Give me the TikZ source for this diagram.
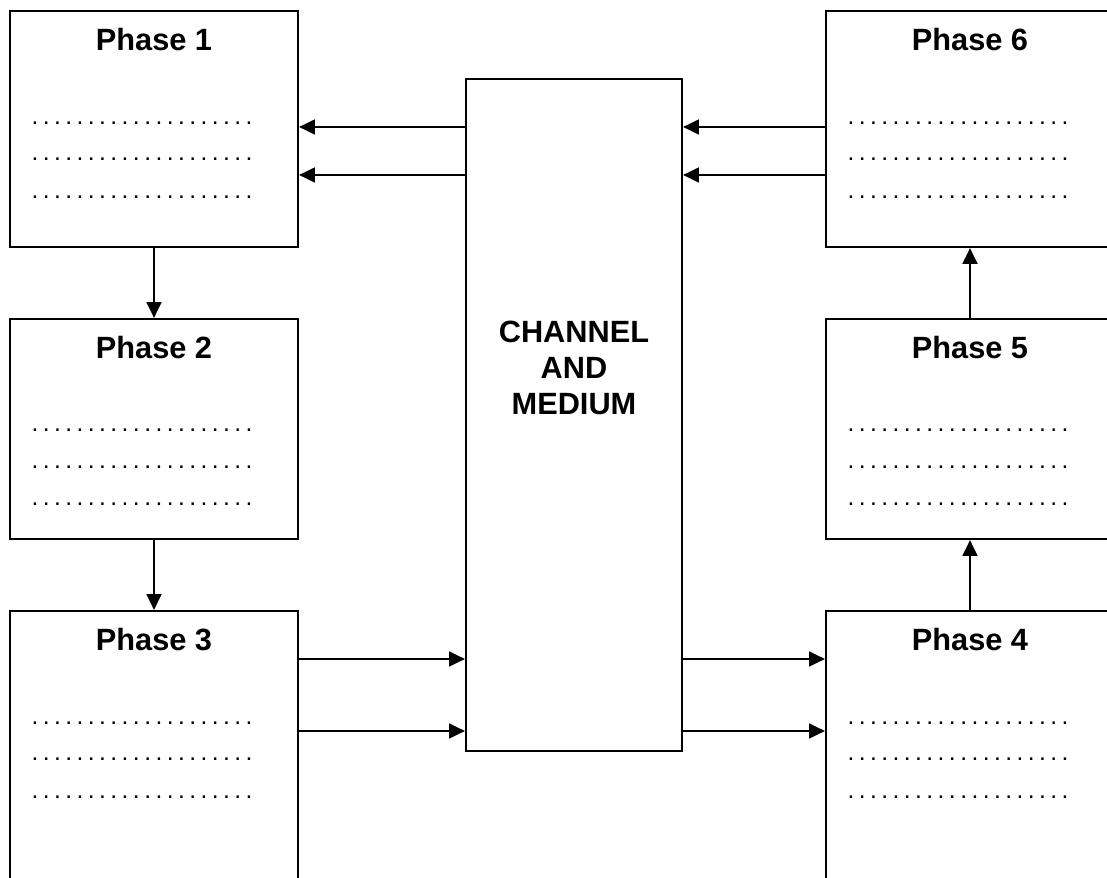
\documentclass[tikz,border=0pt]{standalone}
\usepackage{fontspec}
\setmainfont{Liberation Sans}
\usetikzlibrary{arrows.meta}

\newcommand{\dotrow}{.\foreach \k in {2,...,20}{\kern2.52pt.}}

\tikzset{
    phasebox/.style={draw, line width=1.3pt, minimum width=5.76cm, inner sep=0pt},
    title/.style={inner sep=0pt, font=\bfseries\fontsize{17.5}{21}\selectfont},
    dots/.style={inner sep=0pt, font=\fontsize{14}{16}\selectfont},
    arr/.style={line width=1.1pt, -{Triangle[length=9pt,width=8.5pt]}}
}

\begin{document}
\begin{tikzpicture}[x=0.02cm,y=-0.02cm]
            \useasboundingbox (0,0) rectangle (1107,878);

            \node[phasebox, minimum height=4.72cm] (p1) at (154,129) {};
            \node[phasebox, minimum height=4.4cm] (p2) at (154,429) {};
            \node[phasebox, minimum height=5.42cm] (p3) at (154,746.5) {};
            \node[phasebox, minimum height=5.42cm] (p4) at (970,746.5) {};
            \node[phasebox, minimum height=4.4cm] (p5) at (970,429) {};
            \node[phasebox, minimum height=4.72cm] (p6) at (970,129) {};
            \node[draw, line width=1.3pt, minimum width=4.32cm, minimum height=13.44cm] (ch) at (574,415) {};

            \node[title] (t1) at (154,40) {Phase 1};
            \node[title] (t2) at (154,348) {Phase 2};
            \node[title] (t3) at (154,640) {Phase 3};
            \node[title] (t4) at (970,640) {Phase 4};
            \node[title] (t5) at (970,348) {Phase 5};
            \node[title] (t6) at (970,40) {Phase 6};
            \node[title, align=center, font=\bfseries\fontsize{17.5}{20.3}\selectfont] (chl) at (574,368) {CHANNEL\\AND\\MEDIUM};

            \node[dots] (d1a) at (142,123) {\dotrow};
            \node[dots] (d1b) at (142,159) {\dotrow};
            \node[dots] (d1c) at (142,197) {\dotrow};
            \node[dots] (d2a) at (142,430) {\dotrow};
            \node[dots] (d2b) at (142,467) {\dotrow};
            \node[dots] (d2c) at (142,504) {\dotrow};
            \node[dots] (d3a) at (142,723) {\dotrow};
            \node[dots] (d3b) at (142,759) {\dotrow};
            \node[dots] (d3c) at (142,797) {\dotrow};
            \node[dots] (d4a) at (958,723) {\dotrow};
            \node[dots] (d4b) at (958,759) {\dotrow};
            \node[dots] (d4c) at (958,797) {\dotrow};
            \node[dots] (d5a) at (958,430) {\dotrow};
            \node[dots] (d5b) at (958,467) {\dotrow};
            \node[dots] (d5c) at (958,504) {\dotrow};
            \node[dots] (d6a) at (958,123) {\dotrow};
            \node[dots] (d6b) at (958,159) {\dotrow};
            \node[dots] (d6c) at (958,197) {\dotrow};

            \draw[arr] (p1) -- (p2);
            \draw[arr] (p2) -- (p3);
            \draw[arr] (p4) -- (p5);
            \draw[arr] (p5) -- (p6);

            \draw[arr] (ch.west |- 0,127) -- (p1.east |- 0,127);
            \draw[arr] (ch.west |- 0,175) -- (p1.east |- 0,175);
            \draw[arr] (p6.west |- 0,127) -- (ch.east |- 0,127);
            \draw[arr] (p6.west |- 0,175) -- (ch.east |- 0,175);
            \draw[arr] (p3.east |- 0,659) -- (ch.west |- 0,659);
            \draw[arr] (p3.east |- 0,731) -- (ch.west |- 0,731);
            \draw[arr] (ch.east |- 0,659) -- (p4.west |- 0,659);
            \draw[arr] (ch.east |- 0,731) -- (p4.west |- 0,731);
        \end{tikzpicture}
\end{document}
